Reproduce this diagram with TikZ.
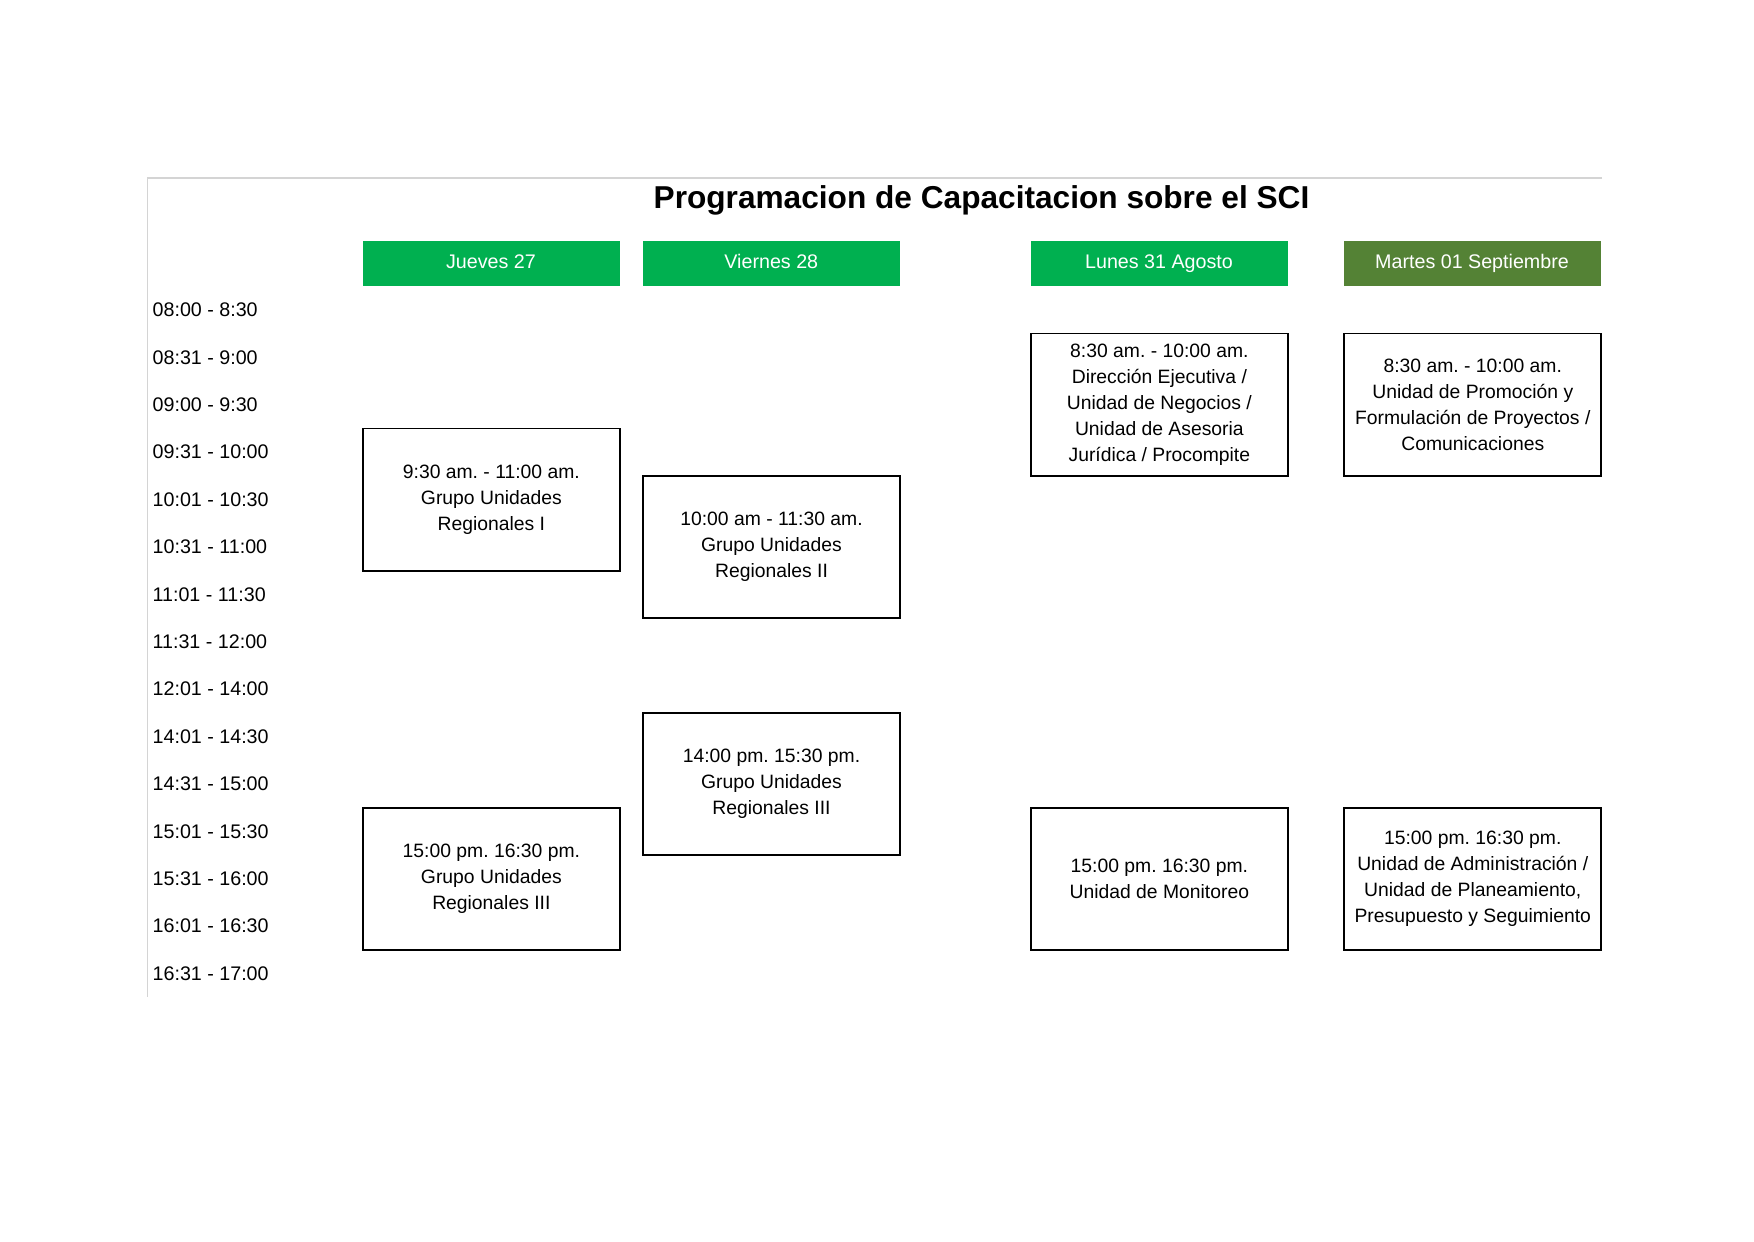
\documentclass[tikz,border=0pt]{standalone}
\usepackage{fontspec}
\setmainfont{Liberation Sans}
\usepackage{tikz}
\frenchspacing
\definecolor{daygreen}{HTML}{00B050}
\definecolor{dayolive}{HTML}{548235}
\definecolor{framegray}{HTML}{D4D4D4}
\tikzstyle{slot} = [anchor=west, inner sep=0pt, font=\fontsize{11.2}{13}\selectfont]
\tikzstyle{dayhead} = [minimum width=5.14cm, minimum height=0.9cm, inner sep=0pt, text height=1.6ex, text depth=0.4ex, text=white, font=\fontsize{11.2}{13}\selectfont]
\tikzstyle{session} = [draw=black, line width=0.9pt, minimum width=5.14cm, minimum height=2.844cm, inner sep=1pt, align=center, font=\fontsize{11}{14.8}\selectfont]

\begin{document}
\begin{tikzpicture}

        \useasboundingbox (0,0) rectangle (35.08,-24.82);

        % Frame
        \draw [framegray, line width=1pt] (32.04,-3.554) -- (2.95,-3.554) -- (2.95,-19.94);

        % Title
        \node at (19.63,-4.166) [anchor=base, inner sep=0pt, font=\fontsize{18}{21}\selectfont\bfseries] (title) {Programacion de Capacitacion sobre el SCI};

        % Days
        \node at (9.82,-5.262) [dayhead, fill=daygreen] (jue) {Jueves 27};
        \node at (15.426,-5.262) [dayhead, fill=daygreen] (vie) {Viernes 28};
        \node at (23.18,-5.262) [dayhead, fill=daygreen] (lun) {Lunes 31 Agosto};
        \node at (29.44,-5.262) [dayhead, fill=dayolive] (mar) {Martes 01 Septiembre};

        % Time slots
        \node at (3.046,-6.2) [slot] (t0800) {08:00 - 8:30};
        \node at (3.046,-7.148) [slot] (t0831) {08:31 - 9:00};
        \node at (3.046,-8.096) [slot] (t0900) {09:00 - 9:30};
        \node at (3.046,-9.044) [slot] (t0931) {09:31 - 10:00};
        \node at (3.046,-9.992) [slot] (t1001) {10:01 - 10:30};
        \node at (3.046,-10.94) [slot] (t1031) {10:31 - 11:00};
        \node at (3.046,-11.888) [slot] (t1101) {11:01 - 11:30};
        \node at (3.046,-12.836) [slot] (t1131) {11:31 - 12:00};
        \node at (3.046,-13.784) [slot] (t1201) {12:01 - 14:00};
        \node at (3.046,-14.732) [slot] (t1401) {14:01 - 14:30};
        \node at (3.046,-15.68) [slot] (t1431) {14:31 - 15:00};
        \node at (3.046,-16.628) [slot] (t1501) {15:01 - 15:30};
        \node at (3.046,-17.576) [slot] (t1531) {15:31 - 16:00};
        \node at (3.046,-18.524) [slot] (t1601) {16:01 - 16:30};
        \node at (3.046,-19.472) [slot] (t1631) {16:31 - 17:00};

        % Jueves sessions
        \node at (9.827,-9.992) [session] (jue1) {9:30 am. - 11:00 am.\\Grupo Unidades\\Regionales I};
        \node at (9.827,-17.576) [session] (jue2) {15:00 pm. 16:30 pm.\\Grupo Unidades\\Regionales III};

        % Viernes sessions
        \node at (15.43,-10.94) [session] (vie1) {10:00 am - 11:30 am.\\Grupo Unidades\\Regionales II};
        \node at (15.43,-15.68) [session] (vie2) {14:00 pm. 15:30 pm.\\Grupo Unidades\\Regionales III};

        % Lunes sessions
        \node at (23.187,-8.096) [session] (lun1) {8:30 am. - 10:00 am.\\Dirección Ejecutiva /\\Unidad de Negocios /\\Unidad de Asesoria\\Jurídica / Procompite};
        \node at (23.187,-17.576) [session] (lun2) {15:00 pm. 16:30 pm.\\Unidad de Monitoreo};

        % Martes sessions
        \node at (29.455,-8.096) [session] (mar1) {8:30 am. - 10:00 am.\\Unidad de Promoción y\\Formulación de Proyectos /\\Comunicaciones};
        \node at (29.455,-17.576) [session] (mar2) {15:00 pm. 16:30 pm.\\Unidad de Administración /\\Unidad de Planeamiento,\\Presupuesto y Seguimiento};

    \end{tikzpicture}
\end{document}
